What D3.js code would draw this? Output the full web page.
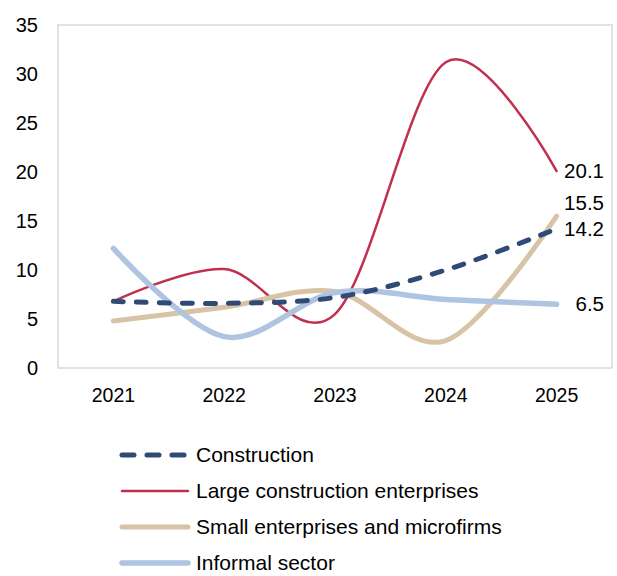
<!DOCTYPE html>
<html>
<head>
<meta charset="utf-8">
<script src="https://cdn.jsdelivr.net/npm/d3@7/dist/d3.min.js"></script>
<style>
  html, body { margin: 0; padding: 0; background: #fff; }
  svg { display: block; font-family: "Liberation Sans", Arial, sans-serif; }
</style>
</head>
<body>
<svg id="chart" width="617" height="576"></svg>
<script>
// Annual growth (%) by segment of the construction sector
const years = ["2021", "2022", "2023", "2024", "2025"];
const construction = [6.8, 6.6, 7.2, 10.0, 14.2];
const largeEnterprises = [6.8, 10.1, 5.5, 31.2, 20.1];
const smallMicro = [4.8, 6.2, 7.8, 2.8, 15.5];
const informal = [12.2, 3.2, 7.7, 7.0, 6.5];
const seriesNames = ["Construction", "Large construction enterprises", "Small enterprises and microfirms", "Informal sector"];
const yTicks = [0, 5, 10, 15, 20, 25, 30, 35];

const series = [
  { name: seriesNames[0], values: construction, color: "#2E4A75", width: 5, dash: "10,13", endDy: 0 },
  { name: seriesNames[1], values: largeEnterprises, color: "#C0304F", width: 2.5, dash: null, endDy: 0 },
  { name: seriesNames[2], values: smallMicro, color: "#D7C4A7", width: 5, dash: null, endDy: -13 },
  { name: seriesNames[3], values: informal, color: "#AFC4E1", width: 5.5, dash: null, endDy: 0 }
];

const svg = d3.select("#chart");
const plot = { left: 58, top: 25, right: 612, bottom: 368 };

const x = d3.scaleBand().domain(years).range([plot.left, plot.right]);
const y = d3.scaleLinear().domain([0, 35]).range([plot.bottom, plot.top]);
const cx = d => x(d) + x.bandwidth() / 2;

// plot frame
svg.append("rect")
  .attr("x", plot.left).attr("y", plot.top)
  .attr("width", plot.right - plot.left).attr("height", plot.bottom - plot.top)
  .attr("fill", "none").attr("stroke", "#D9D9D9").attr("stroke-width", 1.5);

// y axis labels
const yAxis = d3.axisLeft(y).tickValues(yTicks).tickSize(0).tickPadding(20);
const gy = svg.append("g").attr("transform", `translate(${plot.left},0)`).call(yAxis);
gy.select(".domain").remove();
gy.selectAll("text").attr("font-size", 20).attr("fill", "#000")
  .style("font-family", "'Liberation Sans', Arial, sans-serif");

// x axis labels
const xAxis = d3.axisBottom(x).tickSize(0).tickPadding(20);
const gx = svg.append("g").attr("transform", `translate(0,${plot.bottom})`).call(xAxis);
gx.select(".domain").remove();
gx.selectAll("text").attr("font-size", 19.5).attr("fill", "#000")
  .style("font-family", "'Liberation Sans', Arial, sans-serif");

// smoothed lines
const line = d3.line()
  .x((d, i) => cx(years[i]))
  .y(d => y(d))
  .curve(d3.curveCatmullRom.alpha(0));

const drawOrder = [1, 2, 3, 0];
drawOrder.forEach(k => {
  const s = series[k];
  svg.append("path")
    .attr("d", line(s.values))
    .attr("fill", "none")
    .attr("stroke", s.color)
    .attr("stroke-width", s.width)
    .attr("stroke-linecap", "round")
    .attr("stroke-linejoin", "round")
    .attr("stroke-dasharray", s.dash);
});

// end-of-line value labels
series.forEach(s => {
  const v = s.values[s.values.length - 1];
  svg.append("text")
    .attr("x", 604)
    .attr("y", y(v) + s.endDy)
    .attr("dy", "0.35em")
    .attr("text-anchor", "end")
    .attr("font-size", 20.5)
    .attr("fill", "#000")
    .text(d3.format(".1f")(v));
});

// legend
const legend = svg.append("g");
series.forEach((s, i) => {
  const ly = 455 + i * 36;
  legend.append("line")
    .attr("x1", 122).attr("x2", 188)
    .attr("y1", ly).attr("y2", ly)
    .attr("stroke", s.color)
    .attr("stroke-width", s.width)
    .attr("stroke-linecap", "round")
    .attr("stroke-dasharray", s.dash ? "12,13" : null);
  legend.append("text")
    .attr("x", 196).attr("y", ly)
    .attr("dy", "0.35em")
    .attr("font-size", 21)
    .attr("fill", "#000")
    .text(s.name);
});
</script>
</body>
</html>
